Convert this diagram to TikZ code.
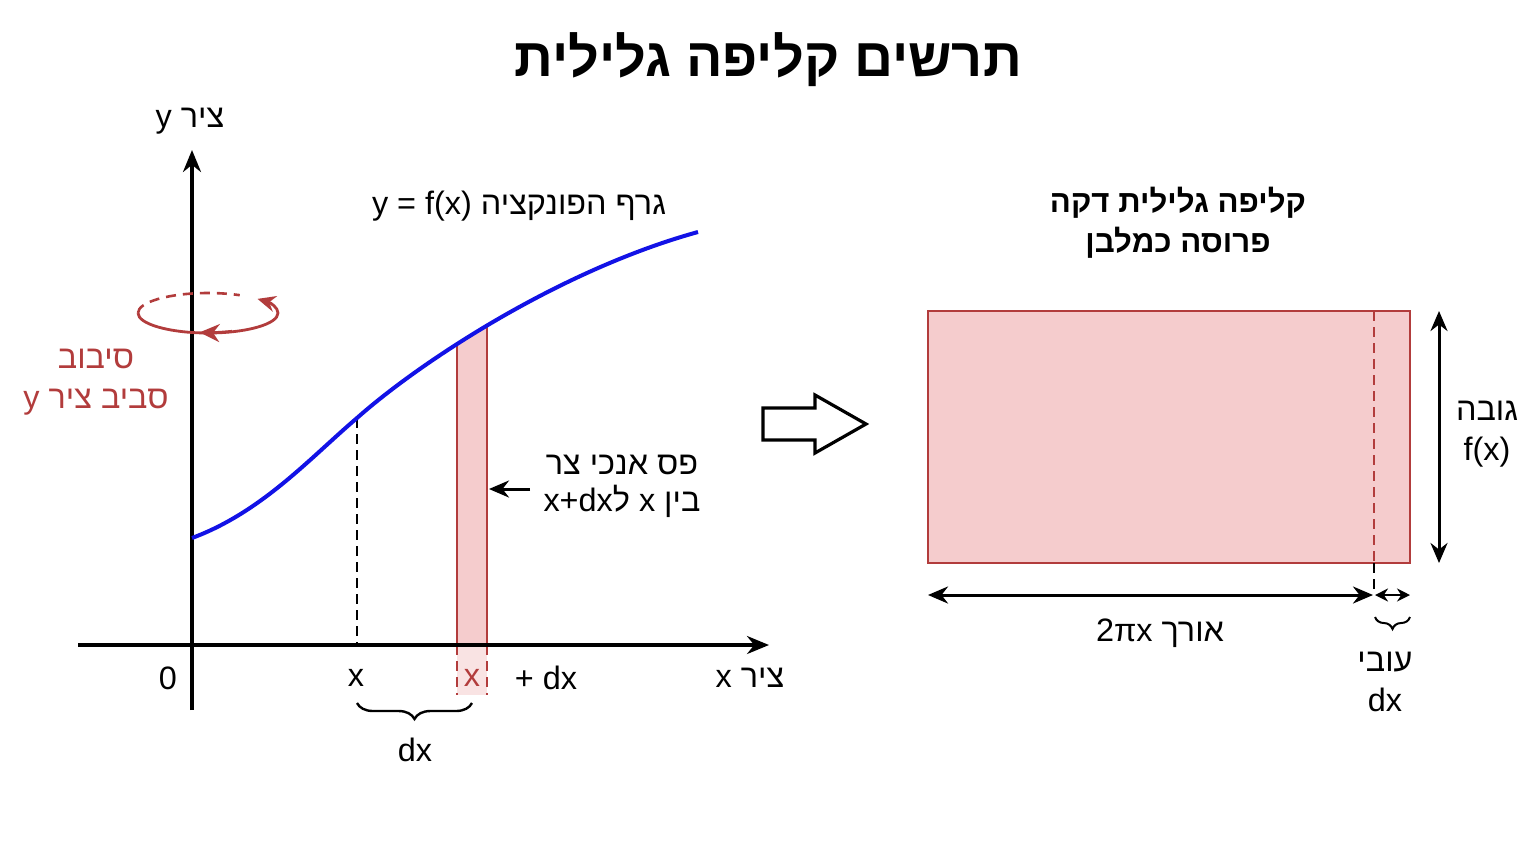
\documentclass[tikz,border=0pt]{standalone}
\usepackage{fontspec}
\setmainfont{Liberation Sans}
\newfontfamily\hebf[Script=Hebrew]{Liberation Sans}
\TeXXeTstate=1
\usetikzlibrary{arrows.meta,decorations.pathreplacing}
\newcommand{\HebT}[1]{{\hebf\beginR #1\endR}}
\definecolor{shellred}{HTML}{B23C3C}
\definecolor{shellpink}{HTML}{F5CCCD}
\definecolor{curveblue}{HTML}{1212E6}
\begin{document}
\begin{tikzpicture}[x=0.5pt,y=-0.5pt,
  lbl/.style={font=\fontsize{16.2}{20}\selectfont, inner sep=0pt, align=center},
  axisline/.style={line width=1.6pt, -{Stealth[length=11pt,width=9pt]}},
  dimarrow/.style={line width=1.5pt, {Stealth[length=10pt,width=8.5pt]}-{Stealth[length=10pt,width=8.5pt]}},
  smalldim/.style={line width=1.3pt, {Stealth[length=6.5pt,width=6.5pt]}-{Stealth[length=6.5pt,width=6.5pt]}},
  curveline/.style={curveblue, line width=2pt},
  redline/.style={shellred, line width=1.4pt},
  guide/.style={dashed, line width=0.9pt, dash pattern=on 5pt off 3pt},
  bracestyle/.style={decorate, line width=1.2pt}]
\useasboundingbox (0,0) rectangle (1536,864);
\fill[white] (0,0) rectangle (1536,864);

% coordinates
\coordinate (ybot) at (192,710);
\coordinate (ytop) at (192,150);
\coordinate (xleft) at (78,645);
\coordinate (xright) at (769,645);

% strip under curve
\begin{scope}
  \clip (192,538) .. controls (262,512) and (310,458) .. (357,418)
        .. controls (420,362) and (560,270) .. (698,232) -- (698,645) -- (192,645) -- cycle;
  \fill[shellpink] (457,200) rectangle (487,645);
  \draw[redline] (457,200) -- (457,645) (487,200) -- (487,645);
\end{scope}
\fill[shellpink!55] (457,645) rectangle (487,695);
\draw[shellred, guide] (457,645) -- (457,695) (487,645) -- (487,695);

% dashed guide at x
\coordinate (gx1) at (357,418);
\coordinate (gx2) at (357,645);
\draw[guide] (gx1) -- (gx2);

% axes
\draw[axisline] (ybot) -- (ytop);
\draw[axisline] (xleft) -- (xright);

% curve
\draw[curveline] (192,538) .. controls (262,512) and (310,458) .. (357,418)
      .. controls (420,362) and (560,270) .. (698,232);

% rotation symbol
\draw[shellred, line width=1.3pt, dash pattern=on 5pt off 3.5pt]
  (138,313) arc[start angle=180, end angle=297, x radius=70, y radius=20];
\draw[shellred, line width=1.4pt, -{Stealth[length=9pt,width=8pt]}]
  (138,313) arc[start angle=180, end angle=-45, x radius=70, y radius=20];
\draw[shellred, line width=1.4pt, -{Stealth[length=10pt,width=9pt]}]
  (232,331.3) arc[start angle=70, end angle=97, x radius=70, y radius=20];

% labels left
\node[font=\fontsize{27}{32}\selectfont\bfseries, inner sep=0pt] (title) at (768,60) {\HebT{תרשים קליפה גלילית}};
\node[lbl] (ylab) at (190,121) {y \HebT{ציר}};
\node[lbl] (flab) at (519,206) {y = f(x) \HebT{גרף הפונקציה}};
\node[lbl, text=shellred] (rotlab) at (96,382) {\HebT{סיבוב}\\y \HebT{סביב ציר}};
\node[lbl, font=\fontsize{16.2}{18.5}\selectfont] (striplab) at (622,486) {\HebT{פס אנכי צר}\\\HebT{בין \beginL x\endL{} ל\beginL x+dx\endL}};
\coordinate (striparrowstart) at (530,489);
\coordinate (striparrowend) at (489,489);
\draw[line width=1.5pt, -{Stealth[length=10pt,width=8.5pt]}] (striparrowstart) -- (striparrowend);

\node[lbl] (zero) at (168,678) {0};
\node[lbl] (xmark) at (356,678) {x};
\node[lbl, text=shellred] (xred) at (472,678) {x};
\node[lbl] (plusdx) at (546,678) {+ dx};
\node[lbl] (xaxlab) at (750,678) {x \HebT{ציר}};
\draw[bracestyle, decoration={brace, mirror, amplitude=8pt}] (357,703) -- (472,703);
\node[lbl] (dxlab) at (415,750) {dx};

% block arrow
\draw[line width=1.6pt, fill=white] (763,408) -- (815,408) -- (815,395) -- (866,424)
  -- (815,453) -- (815,440) -- (763,440) -- cycle;

% right rectangle
\node[font=\fontsize{15.6}{20}\selectfont\bfseries, inner sep=0pt, align=center] (shelltitle) at (1178,223)
  {\HebT{קליפה גלילית דקה}\\\HebT{פרוסה כמלבן}};
\draw[redline, fill=shellpink] (928,311) rectangle (1410,563);
\draw[shellred, guide] (1374,311) -- (1374,563);
\draw[guide, line width=0.6pt] (1374,563) -- (1374,590);

\coordinate (hA) at (1439,311);
\coordinate (hB) at (1439,563);
\draw[dimarrow] (hA) -- (hB);
\node[lbl] (heightlab) at (1487,434) {\HebT{גובה}\\f(x)};

\coordinate (lA) at (928,595);
\coordinate (lB) at (1373,595);
\draw[dimarrow] (lA) -- (lB);
\coordinate (tA) at (1375,595);
\coordinate (tB) at (1410,595);
\draw[smalldim] (tA) -- (tB);
\node[lbl] (lenlab) at (1160,633) {2πx \HebT{אורך}};
\draw[bracestyle, line width=1pt, decoration={brace, mirror, amplitude=6pt}] (1375,617) -- (1410,617);
\node[lbl] (thicklab) at (1385,682) {\HebT{עובי}\\dx};
\end{tikzpicture}
\end{document}
